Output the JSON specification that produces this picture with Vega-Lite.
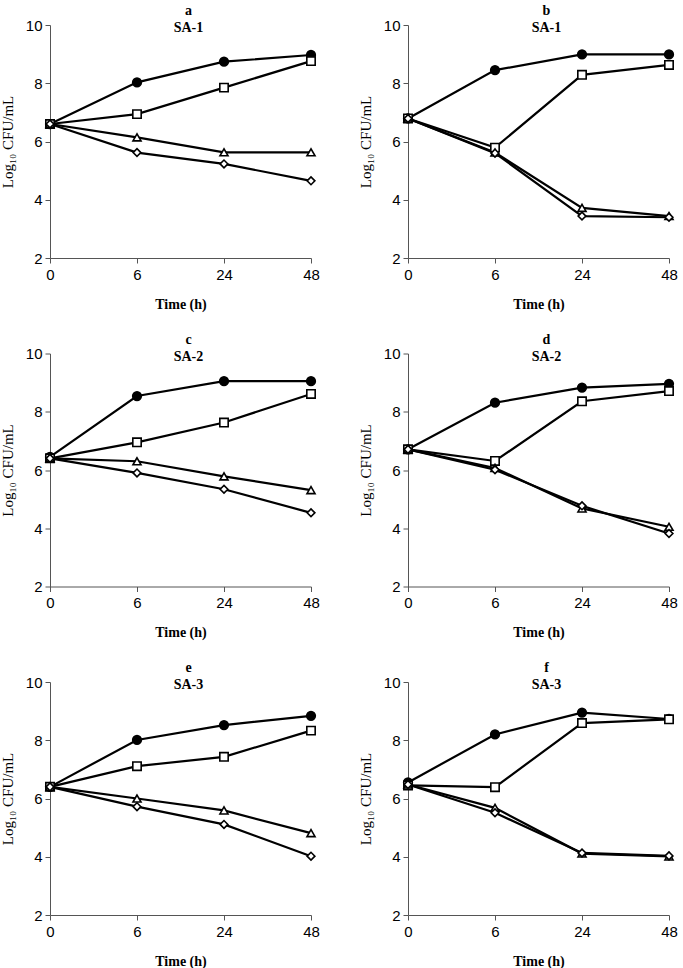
{
  "$schema": "https://vega.github.io/schema/vega-lite/v6.json",
  "padding": {"left": 0, "top": 4, "right": 4, "bottom": 2},
  "background": "white",
  "data": {"values": [
    {"p":"a","t":0,"s":"circle","v":6.6},{"p":"a","t":0,"s":"square","v":6.6},{"p":"a","t":0,"s":"triangle","v":6.6},{"p":"a","t":0,"s":"diamond","v":6.6},
    {"p":"a","t":6,"s":"circle","v":8.03},{"p":"a","t":6,"s":"square","v":6.94},{"p":"a","t":6,"s":"triangle","v":6.14},{"p":"a","t":6,"s":"diamond","v":5.62},
    {"p":"a","t":24,"s":"circle","v":8.74},{"p":"a","t":24,"s":"square","v":7.85},{"p":"a","t":24,"s":"triangle","v":5.63},{"p":"a","t":24,"s":"diamond","v":5.23},
    {"p":"a","t":48,"s":"circle","v":8.97},{"p":"a","t":48,"s":"square","v":8.76},{"p":"a","t":48,"s":"triangle","v":5.63},{"p":"a","t":48,"s":"diamond","v":4.65},
    {"p":"b","t":0,"s":"circle","v":6.79},{"p":"b","t":0,"s":"square","v":6.79},{"p":"b","t":0,"s":"triangle","v":6.79},{"p":"b","t":0,"s":"diamond","v":6.79},
    {"p":"b","t":6,"s":"circle","v":8.45},{"p":"b","t":6,"s":"square","v":5.79},{"p":"b","t":6,"s":"triangle","v":5.62},{"p":"b","t":6,"s":"diamond","v":5.6},
    {"p":"b","t":24,"s":"circle","v":8.99},{"p":"b","t":24,"s":"square","v":8.29},{"p":"b","t":24,"s":"triangle","v":3.72},{"p":"b","t":24,"s":"diamond","v":3.44},
    {"p":"b","t":48,"s":"circle","v":8.99},{"p":"b","t":48,"s":"square","v":8.63},{"p":"b","t":48,"s":"triangle","v":3.44},{"p":"b","t":48,"s":"diamond","v":3.4},
    {"p":"c","t":0,"s":"circle","v":6.45},{"p":"c","t":0,"s":"square","v":6.4},{"p":"c","t":0,"s":"triangle","v":6.4},{"p":"c","t":0,"s":"diamond","v":6.4},
    {"p":"c","t":6,"s":"circle","v":8.54},{"p":"c","t":6,"s":"square","v":6.95},{"p":"c","t":6,"s":"triangle","v":6.3},{"p":"c","t":6,"s":"diamond","v":5.9},
    {"p":"c","t":24,"s":"circle","v":9.05},{"p":"c","t":24,"s":"square","v":7.63},{"p":"c","t":24,"s":"triangle","v":5.78},{"p":"c","t":24,"s":"diamond","v":5.34},
    {"p":"c","t":48,"s":"circle","v":9.05},{"p":"c","t":48,"s":"square","v":8.61},{"p":"c","t":48,"s":"triangle","v":5.31},{"p":"c","t":48,"s":"diamond","v":4.53},
    {"p":"d","t":0,"s":"circle","v":6.71},{"p":"d","t":0,"s":"square","v":6.71},{"p":"d","t":0,"s":"triangle","v":6.71},{"p":"d","t":0,"s":"diamond","v":6.71},
    {"p":"d","t":6,"s":"circle","v":8.31},{"p":"d","t":6,"s":"square","v":6.31},{"p":"d","t":6,"s":"triangle","v":6.07},{"p":"d","t":6,"s":"diamond","v":6.01},
    {"p":"d","t":24,"s":"circle","v":8.83},{"p":"d","t":24,"s":"square","v":8.36},{"p":"d","t":24,"s":"triangle","v":4.68},{"p":"d","t":24,"s":"diamond","v":4.77},
    {"p":"d","t":48,"s":"circle","v":8.96},{"p":"d","t":48,"s":"square","v":8.71},{"p":"d","t":48,"s":"triangle","v":4.05},{"p":"d","t":48,"s":"diamond","v":3.82},
    {"p":"e","t":0,"s":"circle","v":6.4},{"p":"e","t":0,"s":"square","v":6.4},{"p":"e","t":0,"s":"triangle","v":6.4},{"p":"e","t":0,"s":"diamond","v":6.4},
    {"p":"e","t":6,"s":"circle","v":8.01},{"p":"e","t":6,"s":"square","v":7.11},{"p":"e","t":6,"s":"triangle","v":6.0},{"p":"e","t":6,"s":"diamond","v":5.72},
    {"p":"e","t":24,"s":"circle","v":8.52},{"p":"e","t":24,"s":"square","v":7.43},{"p":"e","t":24,"s":"triangle","v":5.59},{"p":"e","t":24,"s":"diamond","v":5.11},
    {"p":"e","t":48,"s":"circle","v":8.84},{"p":"e","t":48,"s":"square","v":8.33},{"p":"e","t":48,"s":"triangle","v":4.81},{"p":"e","t":48,"s":"diamond","v":4.02},
    {"p":"f","t":0,"s":"circle","v":6.55},{"p":"f","t":0,"s":"square","v":6.45},{"p":"f","t":0,"s":"triangle","v":6.48},{"p":"f","t":0,"s":"diamond","v":6.48},
    {"p":"f","t":6,"s":"circle","v":8.2},{"p":"f","t":6,"s":"square","v":6.39},{"p":"f","t":6,"s":"triangle","v":5.68},{"p":"f","t":6,"s":"diamond","v":5.51},
    {"p":"f","t":24,"s":"circle","v":8.95},{"p":"f","t":24,"s":"square","v":8.59},{"p":"f","t":24,"s":"triangle","v":4.11},{"p":"f","t":24,"s":"diamond","v":4.13},
    {"p":"f","t":48,"s":"circle","v":8.73},{"p":"f","t":48,"s":"square","v":8.72},{"p":"f","t":48,"s":"triangle","v":4.01},{"p":"f","t":48,"s":"diamond","v":4.03}
  ]},
  "columns": 2,
  "spacing": {"row": 21.5, "column": 38},
  "concat": [
    {"title": {"text": ["a", "SA-1"]}, "transform": [{"filter": "datum.p == 'a'"}],
     "width": 261, "height": 233,
     "encoding": {
       "x": {"field": "t", "type": "ordinal", "scale": {"type": "point", "padding": 0}, "axis": {"title": "Time (h)"}},
       "y": {"field": "v", "type": "quantitative", "scale": {"domain": [2, 10]}, "axis": {"title": "Log₁₀ CFU/mL", "values": [2,4,6,8,10]}}
     },
     "layer": [
       {"mark": {"type": "line", "color": "black", "strokeWidth": 2.2}, "encoding": {"detail": {"field": "s"}}},
       {"mark": {"type": "point", "opacity": 1, "stroke": "black", "strokeWidth": 1.6},
        "encoding": {
          "shape": {"field": "s", "scale": {"domain": ["circle","square","triangle","diamond"], "range": ["circle","square","triangle-up","diamond"]}, "legend": null},
          "fill": {"field": "s", "scale": {"domain": ["circle","square","triangle","diamond"], "range": ["black","white","white","white"]}, "legend": null},
          "size": {"field": "s", "scale": {"domain": ["circle","square","triangle","diamond"], "range": [75, 60, 60, 55]}, "legend": null}
        }}
     ]},
    {"title": {"text": ["b", "SA-1"]}, "transform": [{"filter": "datum.p == 'b'"}],
     "width": 261, "height": 233,
     "encoding": {
       "x": {"field": "t", "type": "ordinal", "scale": {"type": "point", "padding": 0}, "axis": {"title": "Time (h)"}},
       "y": {"field": "v", "type": "quantitative", "scale": {"domain": [2, 10]}, "axis": {"title": "Log₁₀ CFU/mL", "values": [2,4,6,8,10]}}
     },
     "layer": [
       {"mark": {"type": "line", "color": "black", "strokeWidth": 2.2}, "encoding": {"detail": {"field": "s"}}},
       {"mark": {"type": "point", "opacity": 1, "stroke": "black", "strokeWidth": 1.6},
        "encoding": {
          "shape": {"field": "s", "scale": {"domain": ["circle","square","triangle","diamond"], "range": ["circle","square","triangle-up","diamond"]}, "legend": null},
          "fill": {"field": "s", "scale": {"domain": ["circle","square","triangle","diamond"], "range": ["black","white","white","white"]}, "legend": null},
          "size": {"field": "s", "scale": {"domain": ["circle","square","triangle","diamond"], "range": [75, 60, 60, 55]}, "legend": null}
        }}
     ]},
    {"title": {"text": ["c", "SA-2"]}, "transform": [{"filter": "datum.p == 'c'"}],
     "width": 261, "height": 233,
     "encoding": {
       "x": {"field": "t", "type": "ordinal", "scale": {"type": "point", "padding": 0}, "axis": {"title": "Time (h)"}},
       "y": {"field": "v", "type": "quantitative", "scale": {"domain": [2, 10]}, "axis": {"title": "Log₁₀ CFU/mL", "values": [2,4,6,8,10]}}
     },
     "layer": [
       {"mark": {"type": "line", "color": "black", "strokeWidth": 2.2}, "encoding": {"detail": {"field": "s"}}},
       {"mark": {"type": "point", "opacity": 1, "stroke": "black", "strokeWidth": 1.6},
        "encoding": {
          "shape": {"field": "s", "scale": {"domain": ["circle","square","triangle","diamond"], "range": ["circle","square","triangle-up","diamond"]}, "legend": null},
          "fill": {"field": "s", "scale": {"domain": ["circle","square","triangle","diamond"], "range": ["black","white","white","white"]}, "legend": null},
          "size": {"field": "s", "scale": {"domain": ["circle","square","triangle","diamond"], "range": [75, 60, 60, 55]}, "legend": null}
        }}
     ]},
    {"title": {"text": ["d", "SA-2"]}, "transform": [{"filter": "datum.p == 'd'"}],
     "width": 261, "height": 233,
     "encoding": {
       "x": {"field": "t", "type": "ordinal", "scale": {"type": "point", "padding": 0}, "axis": {"title": "Time (h)"}},
       "y": {"field": "v", "type": "quantitative", "scale": {"domain": [2, 10]}, "axis": {"title": "Log₁₀ CFU/mL", "values": [2,4,6,8,10]}}
     },
     "layer": [
       {"mark": {"type": "line", "color": "black", "strokeWidth": 2.2}, "encoding": {"detail": {"field": "s"}}},
       {"mark": {"type": "point", "opacity": 1, "stroke": "black", "strokeWidth": 1.6},
        "encoding": {
          "shape": {"field": "s", "scale": {"domain": ["circle","square","triangle","diamond"], "range": ["circle","square","triangle-up","diamond"]}, "legend": null},
          "fill": {"field": "s", "scale": {"domain": ["circle","square","triangle","diamond"], "range": ["black","white","white","white"]}, "legend": null},
          "size": {"field": "s", "scale": {"domain": ["circle","square","triangle","diamond"], "range": [75, 60, 60, 55]}, "legend": null}
        }}
     ]},
    {"title": {"text": ["e", "SA-3"]}, "transform": [{"filter": "datum.p == 'e'"}],
     "width": 261, "height": 233,
     "encoding": {
       "x": {"field": "t", "type": "ordinal", "scale": {"type": "point", "padding": 0}, "axis": {"title": "Time (h)"}},
       "y": {"field": "v", "type": "quantitative", "scale": {"domain": [2, 10]}, "axis": {"title": "Log₁₀ CFU/mL", "values": [2,4,6,8,10]}}
     },
     "layer": [
       {"mark": {"type": "line", "color": "black", "strokeWidth": 2.2}, "encoding": {"detail": {"field": "s"}}},
       {"mark": {"type": "point", "opacity": 1, "stroke": "black", "strokeWidth": 1.6},
        "encoding": {
          "shape": {"field": "s", "scale": {"domain": ["circle","square","triangle","diamond"], "range": ["circle","square","triangle-up","diamond"]}, "legend": null},
          "fill": {"field": "s", "scale": {"domain": ["circle","square","triangle","diamond"], "range": ["black","white","white","white"]}, "legend": null},
          "size": {"field": "s", "scale": {"domain": ["circle","square","triangle","diamond"], "range": [75, 60, 60, 55]}, "legend": null}
        }}
     ]},
    {"title": {"text": ["f", "SA-3"]}, "transform": [{"filter": "datum.p == 'f'"}],
     "width": 261, "height": 233,
     "encoding": {
       "x": {"field": "t", "type": "ordinal", "scale": {"type": "point", "padding": 0}, "axis": {"title": "Time (h)"}},
       "y": {"field": "v", "type": "quantitative", "scale": {"domain": [2, 10]}, "axis": {"title": "Log₁₀ CFU/mL", "values": [2,4,6,8,10]}}
     },
     "layer": [
       {"mark": {"type": "line", "color": "black", "strokeWidth": 2.2}, "encoding": {"detail": {"field": "s"}}},
       {"mark": {"type": "point", "opacity": 1, "stroke": "black", "strokeWidth": 1.6},
        "encoding": {
          "shape": {"field": "s", "scale": {"domain": ["circle","square","triangle","diamond"], "range": ["circle","square","triangle-up","diamond"]}, "legend": null},
          "fill": {"field": "s", "scale": {"domain": ["circle","square","triangle","diamond"], "range": ["black","white","white","white"]}, "legend": null},
          "size": {"field": "s", "scale": {"domain": ["circle","square","triangle","diamond"], "range": [75, 60, 60, 55]}, "legend": null}
        }}
     ]}
  ],
  "config": {
    "view": {"stroke": null},
    "title": {"font": "Liberation Serif", "fontSize": 14, "fontWeight": "bold", "color": "black", "anchor": "middle", "offset": -17, "lineHeight": 17, "dx": 8},
    "axis": {"grid": false, "domainColor": "#555", "tickColor": "#555", "tickSize": 5, "labelFont": "Liberation Sans", "labelFontSize": 15, "labelColor": "black", "titleFont": "Liberation Serif", "titleColor": "black"},
    "axisX": {"labelAngle": 0, "labelPadding": 4, "titleFontWeight": "bold", "titleFontSize": 14, "titlePadding": 15},
    "axisY": {"labelPadding": 3, "titleFontWeight": "normal", "titleFontSize": 15, "titlePadding": 10}
  }
}
